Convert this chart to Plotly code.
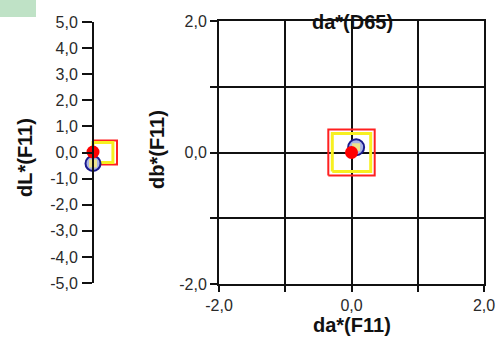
import plotly.graph_objects as go

W, H = 497, 343

# ---- data ----
dl_ticks = [5, 4, 3, 2, 1, 0, -1, -2, -3, -4, -5]
dl_ticktext = ["5,0", "4,0", "3,0", "2,0", "1,0", "0,0", "-1,0", "-2,0", "-3,0", "-4,0", "-5,0"]
ab_ticks = [-2, -1, 0, 1, 2]
ab_ticktext = ["-2,0", "", "0,0", "", "2,0"]

# dL* values (reference sample = red, measured = blue)
dL_red = [0.02]
dL_blue = [-0.42]
# da*/db* values
da_red = [0.0]
db_red = [0.0]
da_blue = [0.07]
db_blue = [0.08]

# tolerance boxes
tol_ab_outer = 0.35
tol_ab_inner = 0.29
tol_L_outer = 0.46
tol_L_inner = 0.38

FONT = "Liberation Sans, Arial, sans-serif"
TICKCOL = "#2a2a2a"


def px(x):
    return x / W


def py(y):
    return 1 - y / H


def box(t):
    return [-t, t, t, -t, -t], [-t, -t, t, t, -t]


fig = go.Figure()

# ---------- left (dL*) ----------
fig.add_trace(go.Scatter(x=[0, 1, 1, 0, 0],
                         y=[-tol_L_outer, -tol_L_outer, tol_L_outer, tol_L_outer, -tol_L_outer],
                         mode="lines", line=dict(color="#ff2020", width=2),
                         xaxis="x", yaxis="y", hoverinfo="skip"))
fig.add_trace(go.Scatter(x=[0, 0.83, 0.83, 0, 0],
                         y=[-tol_L_inner, -tol_L_inner, tol_L_inner, tol_L_inner, -tol_L_inner],
                         mode="lines", line=dict(color="#f7f020", width=3),
                         xaxis="x", yaxis="y", hoverinfo="skip"))
fig.add_trace(go.Scatter(x=[0], y=dL_blue, mode="markers", cliponaxis=False,
                         marker=dict(symbol="circle", size=15, color="#a9b2e6",
                                     line=dict(color="#1a1a8c", width=2)),
                         xaxis="x", yaxis="y"))
fig.add_trace(go.Scatter(x=[0], y=dL_blue, mode="markers", cliponaxis=False,
                         marker=dict(symbol="square", size=8, color="#eee48c", line=dict(width=0)),
                         xaxis="x", yaxis="y"))
fig.add_trace(go.Scatter(x=[0], y=dL_red, mode="markers", cliponaxis=False,
                         marker=dict(symbol="circle", size=13, color="#ff0000", line=dict(width=0)),
                         xaxis="x", yaxis="y"))

# ---------- right (da*/db*) ----------
bx, by = box(tol_ab_outer)
fig.add_trace(go.Scatter(x=bx, y=by, mode="lines", line=dict(color="#ff2020", width=2),
                         xaxis="x2", yaxis="y2", hoverinfo="skip"))
bx, by = box(tol_ab_inner)
fig.add_trace(go.Scatter(x=bx, y=by, mode="lines", line=dict(color="#f7f020", width=3),
                         xaxis="x2", yaxis="y2", hoverinfo="skip"))
fig.add_trace(go.Scatter(x=da_blue, y=db_blue, mode="markers", cliponaxis=False,
                         marker=dict(symbol="circle", size=16, color="#a9b2e6",
                                     line=dict(color="#1a1a8c", width=2)),
                         xaxis="x2", yaxis="y2"))
fig.add_trace(go.Scatter(x=da_blue, y=db_blue, mode="markers", cliponaxis=False,
                         marker=dict(symbol="square", size=8, color="#eee48c", line=dict(width=0)),
                         xaxis="x2", yaxis="y2"))
fig.add_trace(go.Scatter(x=da_red, y=db_red, mode="markers", cliponaxis=False,
                         marker=dict(symbol="circle", size=13, color="#ff0000", line=dict(width=0)),
                         xaxis="x2", yaxis="y2"))

tickfont = dict(family=FONT, size=16, color=TICKCOL)
titlefont = dict(family=FONT, size=20, color="#111111")

fig.update_layout(
    width=W, height=H,
    margin=dict(l=0, r=0, t=0, b=0, pad=0, autoexpand=False),
    paper_bgcolor="white", plot_bgcolor="white",
    showlegend=False,
    xaxis=dict(domain=[px(81), px(129)], range=[-0.5, 1.5], visible=False, fixedrange=True),
    yaxis=dict(domain=[py(283), py(22)], range=[-5, 5], anchor="free", position=px(93),
               tickvals=dl_ticks, ticktext=dl_ticktext, tickfont=tickfont,
               ticks="outside", ticklen=10, tickwidth=2, tickcolor="#111111",
               showline=True, linecolor="#111111", linewidth=2,
               showgrid=False, zeroline=False, ticklabelstandoff=1, automargin=False),
    yaxis3=dict(overlaying="y", range=[-5, 5], anchor="free", position=px(93), side="left",
                tickvals=dl_ticks, showticklabels=False,
                ticks="inside", ticklen=10, tickwidth=2, tickcolor="#111111",
                showline=False, showgrid=False, zeroline=False, automargin=False),
    xaxis2=dict(domain=[px(219), px(484)], range=[-2, 2], anchor="y2",
                tickvals=ab_ticks, ticktext=ab_ticktext, tickfont=tickfont,
                ticks="outside", ticklen=6, tickwidth=1.5, tickcolor="#111111",
                showline=True, mirror=True, linecolor="#111111", linewidth=2,
                showgrid=True, gridcolor="#111111", gridwidth=1.5, zeroline=False,
                automargin=False),
    yaxis2=dict(domain=[py(284), py(21)], range=[-2, 2], anchor="x2",
                tickvals=ab_ticks, ticktext=ab_ticktext, tickfont=tickfont,
                ticks="outside", ticklen=7, tickwidth=1.5, tickcolor="#111111",
                showline=True, mirror=True, linecolor="#111111", linewidth=2,
                showgrid=True, gridcolor="#111111", gridwidth=1.5, zeroline=False,
                automargin=False),
    shapes=[dict(type="rect", xref="paper", yref="paper", x0=0, x1=px(36), y0=py(17), y1=1,
                 fillcolor="#bfe2c6", line=dict(width=0), layer="below")],
    annotations=[
        dict(text="<b>dL*(F11)</b>", x=px(25), y=py(158), xref="paper", yref="paper",
             xanchor="center", yanchor="middle",
             textangle=-90, showarrow=False, font=titlefont),
        dict(text="<b>db*(F11)</b>", x=px(157), y=py(150), xref="paper", yref="paper",
             xanchor="center", yanchor="middle",
             textangle=-90, showarrow=False, font=titlefont),
        dict(text="<b>da*(F11)</b>", x=px(352), y=py(325), xref="paper", yref="paper",
             xanchor="center", yanchor="middle", showarrow=False, font=titlefont),
        dict(text="<b>da*(D65)</b>", x=px(352), y=py(22), xref="paper", yref="paper",
             xanchor="center", yanchor="middle", showarrow=False, font=titlefont),
    ],
)

fig.write_html("out.html", config={"displayModeBar": False},
               post_script="document.body.style.margin='0';document.body.style.padding='0';")
